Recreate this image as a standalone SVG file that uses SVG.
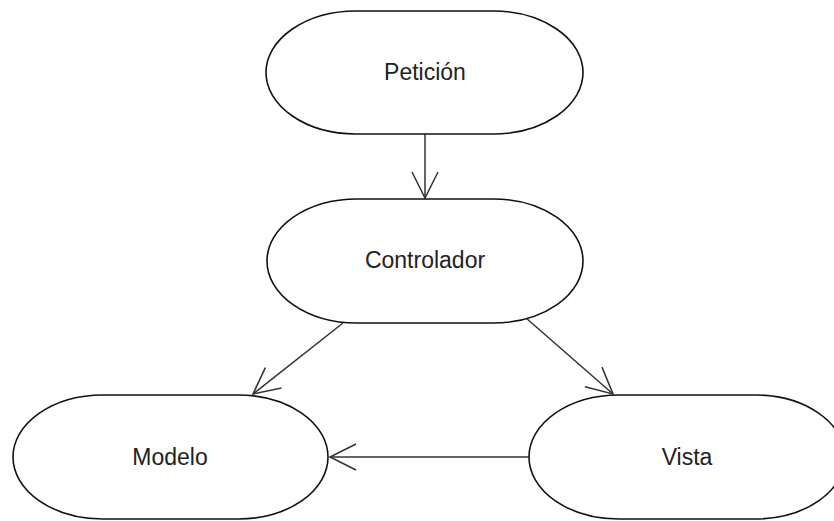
<svg xmlns="http://www.w3.org/2000/svg" width="834" height="521" viewBox="0 0 834 521">
  <style>
    .node { fill: #ffffff; stroke: #111111; stroke-width: 1.6; }
    .label { font-family: "Liberation Sans", Arial, sans-serif; font-size: 23px; fill: #222222; text-anchor: middle; }
    .edge { fill: none; stroke: #333333; stroke-width: 1.5; marker-end: url(#open); }
  </style>
  <defs>
    <marker id="open" markerUnits="userSpaceOnUse" viewBox="-30 -16 32 32" refX="0" refY="0" markerWidth="32" markerHeight="32" orient="auto" overflow="visible">
      <path d="M-26,-13 L0,0 L-26,13" fill="none" stroke="#333333" stroke-width="1.5"/>
    </marker>
  </defs>
  <rect width="834" height="521" fill="#ffffff"/>
  <g id="connectors">
    <line class="edge" x1="425" y1="134" x2="425" y2="198"/>
    <line class="edge" x1="343" y1="323" x2="253" y2="394"/>
    <line class="edge" x1="526" y1="318" x2="613" y2="394"/>
    <line class="edge" x1="529" y1="457" x2="330" y2="457"/>
  </g>
  <g id="peticion">
    <rect class="node" x="266" y="11" width="317" height="123" rx="90" ry="61.5"/>
    <text class="label" x="425" y="80">Petición</text>
  </g>
  <g id="controlador">
    <rect class="node" x="267" y="199" width="316" height="124" rx="90" ry="62"/>
    <text class="label" x="425" y="268">Controlador</text>
  </g>
  <g id="modelo">
    <rect class="node" x="13" y="395" width="315" height="124" rx="90" ry="62"/>
    <text class="label" x="170" y="465">Modelo</text>
  </g>
  <g id="vista">
    <rect class="node" x="529" y="395" width="316" height="124" rx="90" ry="62"/>
    <text class="label" x="687" y="465">Vista</text>
  </g>
</svg>
